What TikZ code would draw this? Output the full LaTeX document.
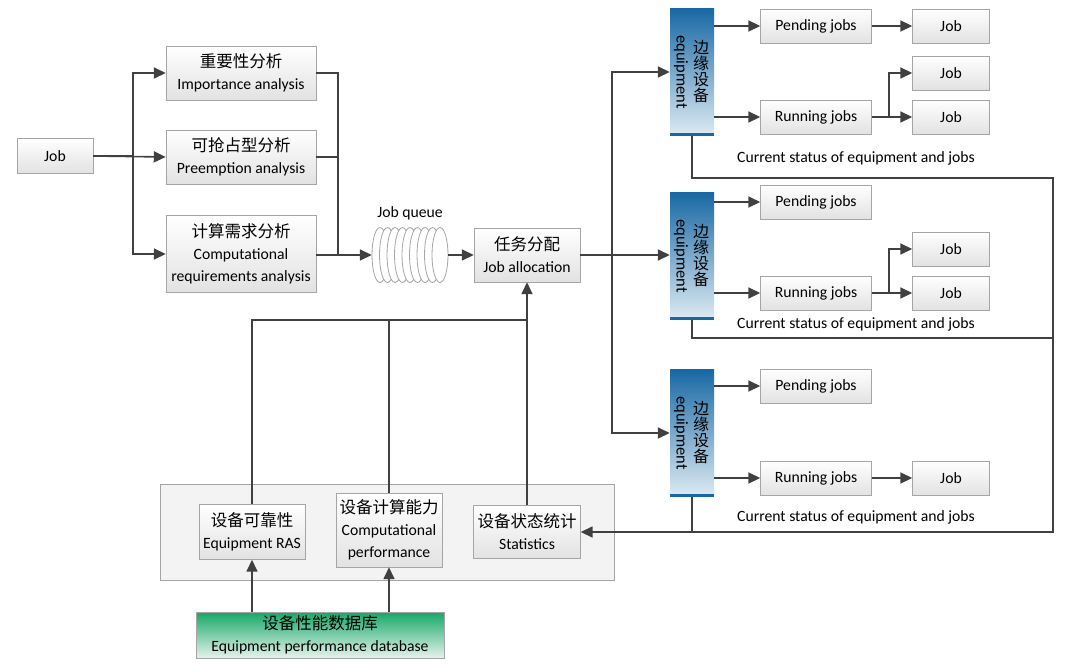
\documentclass[tikz,border=0pt]{standalone}
\usepackage{fontspec}
\setmainfont{Carlito}
\newfontfamily\cjk{Noto Sans CJK SC}
\usepackage{tikz}
\usetikzlibrary{arrows.meta,positioning,calc}
\definecolor{linegray}{RGB}{64,64,64}
\definecolor{boxborder}{RGB}{165,165,165}
\definecolor{boxfill}{RGB}{226,226,226}
\definecolor{equiptop}{RGB}{24,104,164}
\definecolor{equipbottom}{RGB}{222,235,243}
\definecolor{dbtop}{RGB}{22,168,104}
\definecolor{dbbottom}{RGB}{230,243,236}
\definecolor{panelfill}{RGB}{243,243,243}

\newcommand{\zh}[1]{{\cjk\fontsize{16.5}{22}\selectfont #1}}

\begin{document}
\begin{tikzpicture}[
    x=1pt, y=-1pt,
    box/.style={rectangle, draw=boxborder, top color=white, bottom color=boxfill, align=center, inner sep=0pt, font=\fontsize{15.7}{22}\selectfont},
    analysis/.style={box, minimum width=150pt, minimum height=54pt},
    small/.style={box, minimum width=77pt, minimum height=34pt},
    jobs/.style={box, minimum width=111pt, minimum height=34pt},
    equip/.style={rectangle, top color=equiptop, bottom color=equipbottom, minimum width=44pt, minimum height=127pt, inner sep=0pt,
        path picture={\draw[line width=5pt, equiptop] (path picture bounding box.south west) -- (path picture bounding box.south east);}},
    eqen/.style={rotate=-90, font=\fontsize{16.5}{16.5}\selectfont},
    eqzh/.style={align=center, font=\cjk\fontsize{16}{16}\selectfont},
    status/.style={font=\fontsize{15.7}{18}\selectfont},
    arrow/.style={-{Triangle[length=12pt,width=11pt]}, line width=1.6pt, draw=linegray},
    link/.style={line width=1.6pt, draw=linegray}
]
\useasboundingbox (0,0) rectangle (1070,664);

% Job and analysis blocks
\node[small, minimum width=76pt, minimum height=35pt] (job) at (55,156) {Job};
\node[analysis] (imp) at (241,73) {\zh{重要性分析}\\Importance analysis};
\node[analysis] (pre) at (241,157) {\zh{可抢占型分析}\\Preemption analysis};
\node[analysis, minimum height=77pt] (cmp) at (241,254) {\zh{计算需求分析}\\Computational\\requirements analysis};

% Job queue
\node[minimum width=76pt, minimum height=55pt, inner sep=0pt] (queue) at (410,255) {};
\foreach \i in {0,...,8}
    \draw[boxborder, fill=white, line width=0.8pt] (380+\i*7.5,255) ellipse [x radius=8pt, y radius=27.5pt];
\node[status, above=4pt of queue] (qlabel) {Job queue};

% Job allocation
\node[box, minimum width=106pt, minimum height=54pt] (jall) at (527,255) {\zh{任务分配}\\Job allocation};

% Edge equipment
\node[equip] (eq1) at (692,72) {};
\node[equip] (eq2) at (692,256) {};
\node[equip] (eq3) at (692,433) {};
\node[eqen] (eq1en) at ([xshift=-11pt]eq1.center) {equipment};
\node[eqzh] (eq1zh) at ([xshift=9pt]eq1.center) {边\\缘\\设\\备};
\node[eqen] (eq2en) at ([xshift=-11pt]eq2.center) {equipment};
\node[eqzh] (eq2zh) at ([xshift=9pt]eq2.center) {边\\缘\\设\\备};
\node[eqen] (eq3en) at ([xshift=-11pt]eq3.center) {equipment};
\node[eqzh] (eq3zh) at ([xshift=9pt]eq3.center) {边\\缘\\设\\备};

% Jobs of equipment 1
\node[jobs] (pend1) at (816,26) {Pending jobs};
\node[jobs] (run1) at (816,117) {Running jobs};
\node[small] (pj1) at (951,26) {Job};
\node[small] (rj1a) at (951,73) {Job};
\node[small] (rj1b) at (951,117) {Job};
\node[status] (st1) at (856,158) {Current status of equipment and jobs};

% Jobs of equipment 2
\node[jobs] (pend2) at (816,202) {Pending jobs};
\node[jobs] (run2) at (816,293) {Running jobs};
\node[small] (rj2a) at (951,249) {Job};
\node[small] (rj2b) at (951,293) {Job};
\node[status] (st2) at (856,324) {Current status of equipment and jobs};

% Jobs of equipment 3
\node[jobs] (pend3) at (816,386) {Pending jobs};
\node[jobs] (run3) at (816,478) {Running jobs};
\node[small] (rj3) at (951,478) {Job};
\node[status] (st3) at (856,517) {Current status of equipment and jobs};

% Equipment information panel
\node[rectangle, draw=boxborder, fill=panelfill, minimum width=454pt, minimum height=96pt] (panel) at (387,532) {};
\node[box, minimum width=106pt, minimum height=55pt] (ras) at (252,532) {\zh{设备可靠性}\\Equipment RAS};
\node[box, minimum width=106pt, minimum height=74pt] (perf) at (389,530) {\zh{设备计算能力}\\Computational\\performance};
\node[box, minimum width=107pt, minimum height=53pt] (stat) at (527,532) {\zh{设备状态统计}\\Statistics};
\node[rectangle, draw=boxborder, top color=dbtop, bottom color=dbbottom, minimum width=248pt, minimum height=46pt, align=center, inner sep=0pt, font=\fontsize{15.7}{22}\selectfont] (db) at (320,635) {\zh{设备性能数据库}\\Equipment performance database};

% Job to analysis
\coordinate (split) at (133,156);
\draw[link] (job.east) -- (split);
\draw[arrow] (split) |- (imp.west);
\draw[arrow] (job.east) -- (pre.west);
\draw[arrow] (split) |- (cmp.west);

% Analysis to queue
\coordinate (merge) at (338,255);
\draw[link] (imp.east) -| (merge);
\draw[link] (pre.east) -| (merge);
\draw[arrow] (cmp.east |- merge) -- (queue.west);
\draw[arrow] (queue.east) -- (jall.west);

% Allocation to equipment
\coordinate (fork) at (612,255);
\draw[link] (jall.east) -- (fork);
\draw[arrow] (fork) |- (eq1.west);
\draw[arrow] (fork) -- (eq2.west |- fork);
\draw[arrow] (fork) |- (eq3.west);

% Equipment 1 connections
\draw[arrow] (eq1.east |- pend1) -- (pend1.west);
\draw[arrow] (eq1.east |- run1) -- (run1.west);
\draw[arrow] (pend1) -- (pj1);
\draw[link] (run1.east) -- ++(17,0) coordinate (r1);
\draw[arrow] (r1) |- (rj1a.west);
\draw[arrow] (r1) -- (rj1b.west);

% Equipment 2 connections
\draw[arrow] (eq2.east |- pend2) -- (pend2.west);
\draw[arrow] (eq2.east |- run2) -- (run2.west);
\draw[link] (run2.east) -- ++(17,0) coordinate (r2);
\draw[arrow] (r2) |- (rj2a.west);
\draw[arrow] (r2) -- (rj2b.west);

% Equipment 3 connections
\draw[arrow] (eq3.east |- pend3) -- (pend3.west);
\draw[arrow] (eq3.east |- run3) -- (run3.west);
\draw[arrow] (run3) -- (rj3);

% Status feedback
\coordinate (loop1) at (1053,178);
\coordinate (loop2) at (1053,338);
\draw[arrow] (eq1.south) |- (loop1) |- (stat.east);
\draw[link] (eq2.south) |- (loop2);
\draw[link] (eq3.south) -- (eq3.south |- stat.east);

% Equipment information to allocation
\coordinate (bus) at (527,320);
\draw[link] (ras.north) |- (bus);
\draw[link] (perf.north) -- (perf.north |- bus);
\draw[arrow] (stat.north) -- (jall.south);

% Database
\draw[arrow] (db.north -| ras) -- (ras.south);
\draw[arrow] (db.north -| perf) -- (perf.south);

\end{tikzpicture}
\end{document}
